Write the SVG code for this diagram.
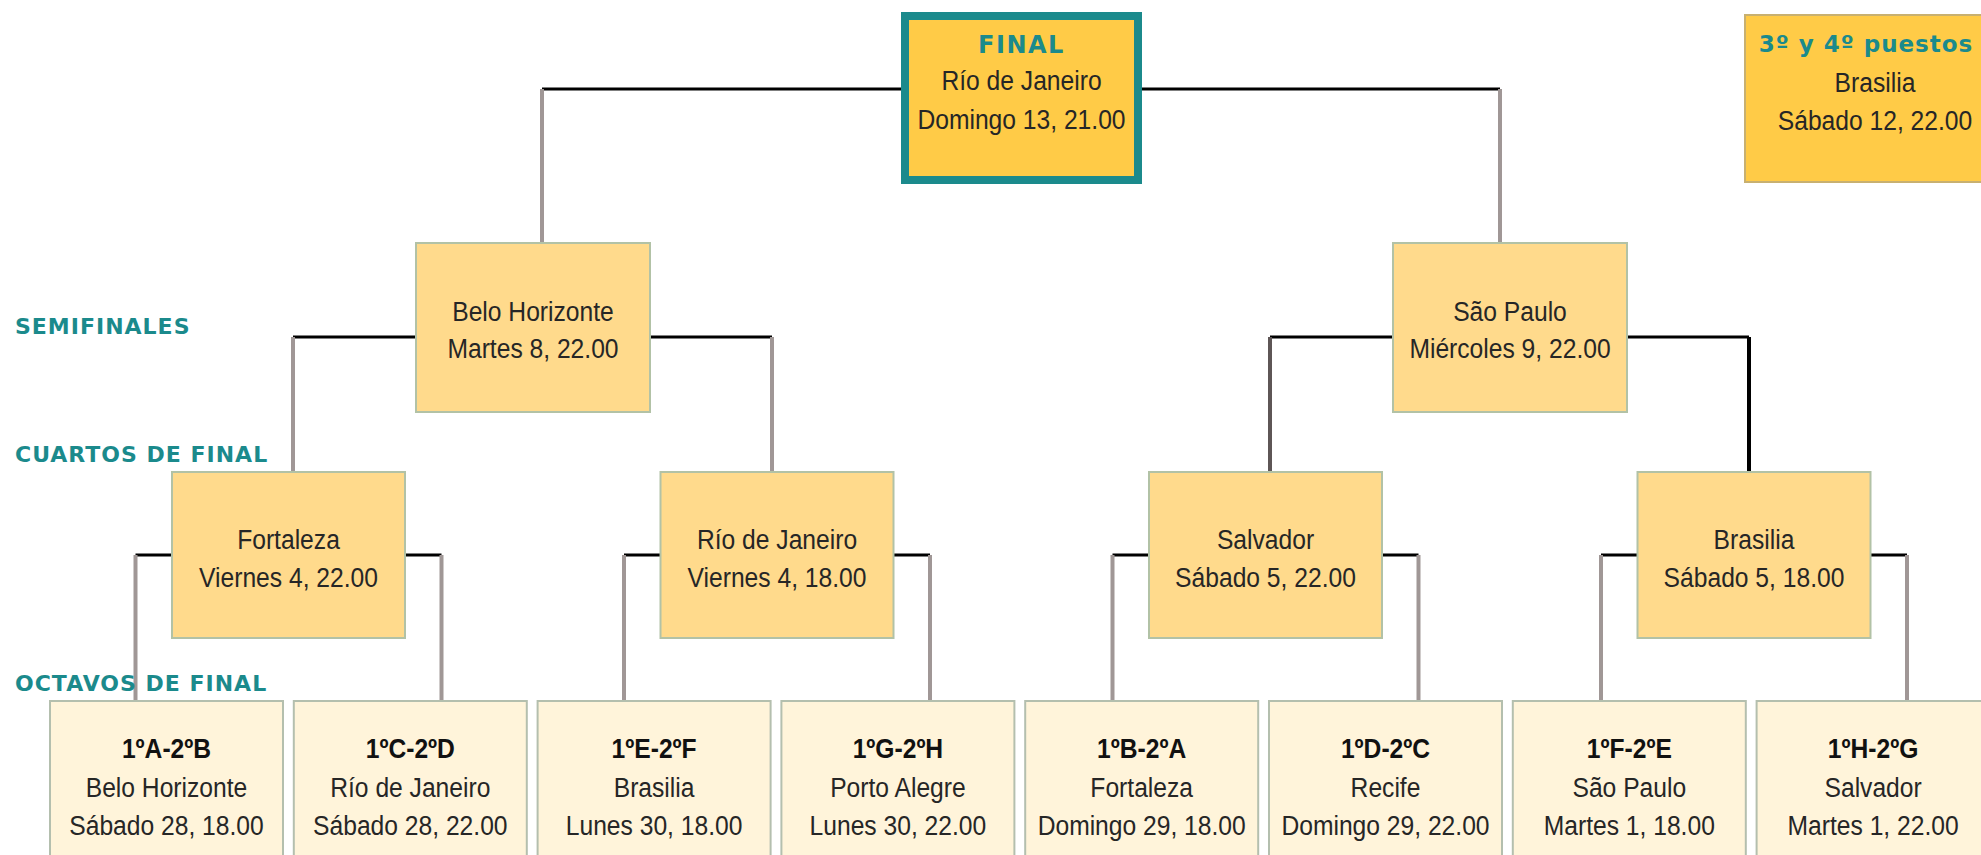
<svg xmlns="http://www.w3.org/2000/svg" width="1981" height="855" viewBox="0 0 1981 855">
<style>
.oct{fill:#fff4da;stroke:#b4bfae;stroke-width:2}
.mid{fill:#ffda8c;stroke:#b2c2a6;stroke-width:2}
.top{fill:#ffcb47;stroke:#c8b070;stroke-width:2}
.fin{fill:#ffcb47;stroke:#1b8a8c;stroke-width:8}
.h{stroke:#000;stroke-width:3;fill:none}
.v{stroke:#a09796;stroke-width:4;fill:none}
.t{font-family:"Liberation Sans",Arial,sans-serif;font-size:28px;fill:#262626;text-anchor:middle}
.b{font-family:"Liberation Sans",Arial,sans-serif;font-size:28px;font-weight:bold;fill:#111;text-anchor:middle}
.lab{font-family:"DejaVu Sans",Verdana,sans-serif;font-size:22px;font-weight:bold;fill:#1b8a8c;letter-spacing:1px}
.hd{font-family:"DejaVu Sans",Verdana,sans-serif;font-size:24px;font-weight:bold;fill:#1b8a8c;letter-spacing:1.5px;text-anchor:middle}
</style>
<g id="connectors">
<path class="h" d="M542 89H901M1142 89H1500"/>
<path class="v" d="M542 89V243M1500 89V243"/>
<path class="h" d="M293 337H416M650 337H772M1270 337H1393M1627 337H1749"/>
<path class="v" d="M293 337V472M772 337V472"/>
<path class="v" style="stroke:#5e5656" d="M1270 337V472"/>
<path class="v" style="stroke:#000" d="M1749 337V472"/>
<path class="h" d="M135.5 555H172M405 555H441.5M624 555H660.5M893.5 555H930M1112.5 555H1149M1382 555H1418.5M1601 555H1637.5M1870.5 555H1907"/>
<path class="v" d="M135.5 555V701M441.5 555V701M624 555V701M930 555V701M1112.5 555V701M1418.5 555V701M1601 555V701M1907 555V701"/>
</g>
<g id="stage-labels">
<text class="lab" x="15" y="334">SEMIFINALES</text>
<text class="lab" x="15" y="462">CUARTOS DE FINAL</text>
<text class="lab" x="15" y="691">OCTAVOS DE FINAL</text>
</g>
<g id="final">
<rect class="fin" x="905" y="16" width="233" height="164"/>
<text class="hd" x="1021.5" y="53">FINAL</text>
<g transform="translate(1021.5 0) scale(0.88 1)"><text class="t" x="0" y="90">Río de Janeiro</text><text class="t" x="0" y="129">Domingo 13, 21.00</text></g>
</g>
<g id="third-place">
<rect class="top" x="1745" y="15" width="250" height="167"/>
<text class="hd" x="1866" y="52" style="font-size:23px;letter-spacing:1px">3º y 4º puestos</text>
<g transform="translate(1875 0) scale(0.88 1)"><text class="t" x="0" y="92">Brasilia</text><text class="t" x="0" y="130">Sábado 12, 22.00</text></g>
</g>
<g id="semi-1">
<rect class="mid" x="416" y="243" width="234" height="169"/>
<g transform="translate(533 0) scale(0.88 1)"><text class="t" x="0" y="321">Belo Horizonte</text><text class="t" x="0" y="358">Martes 8, 22.00</text></g>
</g>
<g id="semi-2">
<rect class="mid" x="1393" y="243" width="234" height="169"/>
<g transform="translate(1510 0) scale(0.88 1)"><text class="t" x="0" y="321">São Paulo</text><text class="t" x="0" y="358">Miércoles 9, 22.00</text></g>
</g>
<g id="quarter-1">
<rect class="mid" x="172" y="472" width="233" height="166"/>
<g transform="translate(288.5 0) scale(0.88 1)"><text class="t" x="0" y="549">Fortaleza</text><text class="t" x="0" y="587">Viernes 4, 22.00</text></g>
</g>
<g id="quarter-2">
<rect class="mid" x="660.5" y="472" width="233" height="166"/>
<g transform="translate(777 0) scale(0.88 1)"><text class="t" x="0" y="549">Río de Janeiro</text><text class="t" x="0" y="587">Viernes 4, 18.00</text></g>
</g>
<g id="quarter-3">
<rect class="mid" x="1149" y="472" width="233" height="166"/>
<g transform="translate(1265.5 0) scale(0.88 1)"><text class="t" x="0" y="549">Salvador</text><text class="t" x="0" y="587">Sábado 5, 22.00</text></g>
</g>
<g id="quarter-4">
<rect class="mid" x="1637.5" y="472" width="233" height="166"/>
<g transform="translate(1754 0) scale(0.88 1)"><text class="t" x="0" y="549">Brasilia</text><text class="t" x="0" y="587">Sábado 5, 18.00</text></g>
</g>
<g id="r16-1">
<rect class="oct" x="50" y="701" width="233" height="170"/>
<g transform="translate(166.5 0) scale(0.88 1)"><text class="b" x="0" y="758">1ºA-2ºB</text><text class="t" x="0" y="797">Belo Horizonte</text><text class="t" x="0" y="835">Sábado 28, 18.00</text></g>
</g>
<g id="r16-2">
<rect class="oct" x="293.8" y="701" width="233" height="170"/>
<g transform="translate(410.3 0) scale(0.88 1)"><text class="b" x="0" y="758">1ºC-2ºD</text><text class="t" x="0" y="797">Río de Janeiro</text><text class="t" x="0" y="835">Sábado 28, 22.00</text></g>
</g>
<g id="r16-3">
<rect class="oct" x="537.6" y="701" width="233" height="170"/>
<g transform="translate(654.1 0) scale(0.88 1)"><text class="b" x="0" y="758">1ºE-2ºF</text><text class="t" x="0" y="797">Brasilia</text><text class="t" x="0" y="835">Lunes 30, 18.00</text></g>
</g>
<g id="r16-4">
<rect class="oct" x="781.4" y="701" width="233" height="170"/>
<g transform="translate(897.9 0) scale(0.88 1)"><text class="b" x="0" y="758">1ºG-2ºH</text><text class="t" x="0" y="797">Porto Alegre</text><text class="t" x="0" y="835">Lunes 30, 22.00</text></g>
</g>
<g id="r16-5">
<rect class="oct" x="1025.2" y="701" width="233" height="170"/>
<g transform="translate(1141.7 0) scale(0.88 1)"><text class="b" x="0" y="758">1ºB-2ºA</text><text class="t" x="0" y="797">Fortaleza</text><text class="t" x="0" y="835">Domingo 29, 18.00</text></g>
</g>
<g id="r16-6">
<rect class="oct" x="1269" y="701" width="233" height="170"/>
<g transform="translate(1385.5 0) scale(0.88 1)"><text class="b" x="0" y="758">1ºD-2ºC</text><text class="t" x="0" y="797">Recife</text><text class="t" x="0" y="835">Domingo 29, 22.00</text></g>
</g>
<g id="r16-7">
<rect class="oct" x="1512.8" y="701" width="233" height="170"/>
<g transform="translate(1629.3 0) scale(0.88 1)"><text class="b" x="0" y="758">1ºF-2ºE</text><text class="t" x="0" y="797">São Paulo</text><text class="t" x="0" y="835">Martes 1, 18.00</text></g>
</g>
<g id="r16-8">
<rect class="oct" x="1756.6" y="701" width="233" height="170"/>
<g transform="translate(1873.1 0) scale(0.88 1)"><text class="b" x="0" y="758">1ºH-2ºG</text><text class="t" x="0" y="797">Salvador</text><text class="t" x="0" y="835">Martes 1, 22.00</text></g>
</g>
</svg>
